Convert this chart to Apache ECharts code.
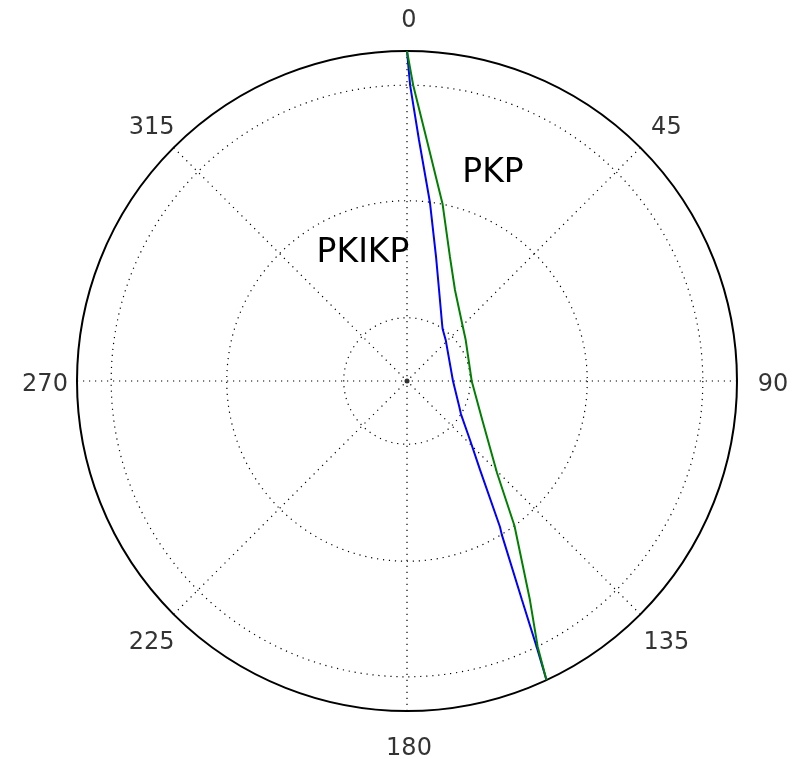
<!DOCTYPE html>
<html>
<head>
<meta charset="utf-8">
<script src="https://cdn.jsdelivr.net/npm/echarts@6/dist/echarts.min.js"></script>
<style>html,body{margin:0;padding:0;background:#fff;}#c{width:805px;height:759px;}</style>
</head>
<body>
<div id="c"></div>
<script>
// Ray paths: [radius_km, angle_deg]
var pkikp = [[6371,0],[5711,0.6],[4659,2.85],[3480,7.3],[2458,13.2],[1863,19.4],[1308,31.1],[1221.5,34.2],[1089,43.3],[888,90],[1125,116.2],[1221.5,121.5],[1666,133.1],[2222,140.6],[3342,147.5],[3480,148.3],[4776,152.3],[5711,154.0],[6371,155]];
var pkp = [[6371,0],[5711,1.2],[4668,4.7],[3480,11.4],[2534,19.1],[1986,27.8],[1543,43.5],[1382,55.1],[1249,90],[1637,117.4],[2485,135.6],[3480,143.4],[4850,150.7],[5711,153.8],[6371,155]];
var discontinuities = [1221.5, 3480, 5711];
var earthRadius = 6371;
var angleTicks = [0, 45, 90, 135, 180, 225, 270, 315];
var phaseLabels = [{name:'PKP', x:493, y:173}, {name:'PKIKP', x:363, y:253}];

var chart = echarts.init(document.getElementById('c'));
var dotted = {color:'#000', width:1.2, type:[1.2,4.8]};
chart.setOption({
  animation:false,
  backgroundColor:'#fff',
  polar:[{center:[407,381], radius:330},{center:[407,381], radius:364}],
  angleAxis:[{
    polarIndex:0, type:'value', min:0, max:360, interval:45, startAngle:90, clockwise:true,
    axisLine:{show:true, lineStyle:{color:'#000', width:2}},
    axisTick:{show:false}, axisLabel:{show:false},
    splitLine:{show:true, lineStyle:dotted}
  },{
    polarIndex:1, type:'value', min:0, max:360, startAngle:90, clockwise:true,
    axisLine:{show:false}, axisTick:{show:false}, axisLabel:{show:false}, splitLine:{show:false}
  }],
  radiusAxis:[{
    polarIndex:0, type:'value', min:0, max:earthRadius,
    axisLine:{show:false}, axisLabel:{show:false},
    axisTick:{show:false, customValues:discontinuities},
    splitLine:{show:true, lineStyle:dotted}
  },{
    polarIndex:1, type:'value', min:0, max:1,
    axisLine:{show:false}, axisLabel:{show:false}, axisTick:{show:false}, splitLine:{show:false}
  }],
  graphic: phaseLabels.map(function(p){
    return {type:'text', x:p.x, y:p.y, style:{text:p.name, font:'33px "DejaVu Sans"', fill:'#000', align:'center', verticalAlign:'middle'}};
  }),
  series:[
    {type:'line', coordinateSystem:'polar', polarIndex:0, data:pkikp, symbol:'none', lineStyle:{color:'#0000ff', width:2}},
    {type:'line', coordinateSystem:'polar', polarIndex:0, data:pkp, symbol:'none', lineStyle:{color:'#008000', width:2}},
    {type:'scatter', coordinateSystem:'polar', polarIndex:0, data:[[0,0]], symbolSize:5, itemStyle:{color:'#000'}},
    {type:'scatter', coordinateSystem:'polar', polarIndex:1, data:angleTicks.map(function(a){return [1,a];}),
      symbolSize:1, itemStyle:{color:'rgba(0,0,0,0)'},
      label:{show:true, position:'inside', offset:[2,4], formatter:function(p){return String(p.value[1]);}, fontSize:24, fontFamily:'DejaVu Sans', color:'#000', textBorderWidth:0}}
  ]
});
</script>
</body>
</html>
